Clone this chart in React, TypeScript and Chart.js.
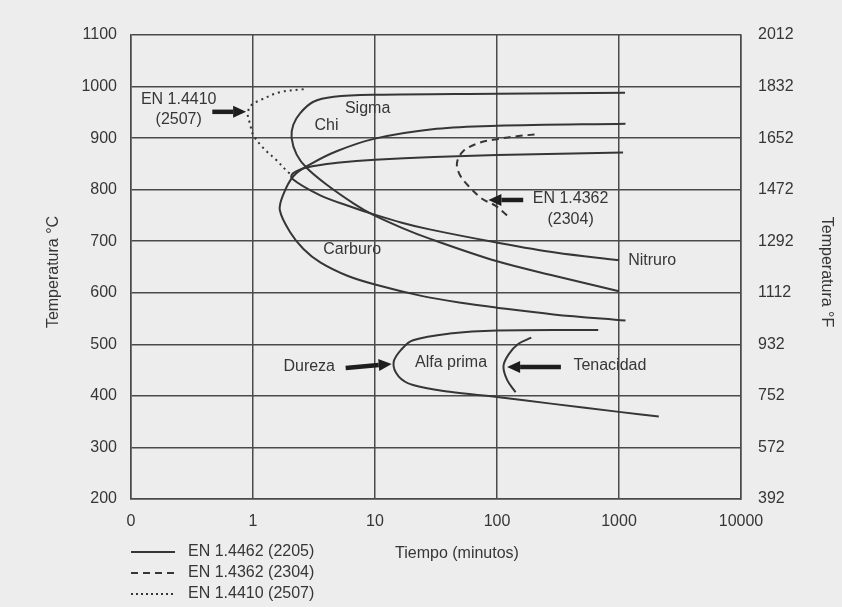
import React, { useEffect, useRef } from "react";
import { Chart, registerables } from "chart.js";

Chart.register(...registerables);

// ---------- data ----------
const X_TICKS = [0.1, 1, 10, 100, 1000, 10000];
const C_TICKS = [200, 300, 400, 500, 600, 700, 800, 900, 1000, 1100];
const F_TICKS = [392, 572, 752, 932, 1112, 1292, 1472, 1652, 1832, 2012];

// EN 1.4462 (2205) – Sigma / Chi curve (ends ~600 °C at 1000 min)
const sigmaTime = [1120, 100, 10, 4.6, 3.1, 2.43, 2.14, 2.07, 2.28, 2.76, 4.05, 6.7, 9.5, 16.6, 28, 97, 294, 1000];
const sigmaTemp = [988, 986, 984, 980, 970, 948, 926, 901, 868, 842, 809, 773, 752, 726, 705, 662, 633, 603];

// EN 1.4462 (2205) – curve ending at Nitruro
const nitruroTime = [1080, 100, 10, 4.9, 2.76, 2.14, 2.07, 3.56, 6.7, 9.5, 16.6, 28, 97, 300, 1000];
const nitruroTemp = [872, 867, 858, 852, 843, 832, 822, 789, 765, 753, 736, 723, 698, 678, 663];

// EN 1.4462 (2205) – Carburo curve
const carburoTime = [1130, 100, 32, 10, 4.9, 2.94, 2.14, 1.76, 1.66, 2.01, 2.59, 3.56, 5.94, 10, 24, 49, 100, 290, 1130];
const carburoTemp = [928, 924, 918, 899, 875, 849, 826, 789, 760, 718, 685, 659, 633, 616, 594, 581, 571, 558, 546];

// EN 1.4462 (2205) – Alfa prima curve
const alfaTime = [676, 100, 41, 20.5, 16.6, 14.2, 15.6, 20.5, 41, 100, 277, 1000, 2120];
const alfaTemp = [528, 527, 521, 508, 491, 465, 438, 421, 408, 398, 385, 369, 360];

// EN 1.4462 (2205) – Tenacidad curve
const tenacidadTime = [191, 150, 125, 113, 121, 142];
const tenacidadTemp = [513, 501, 481, 458, 431, 407];

// EN 1.4362 (2304) – dashed
const en2304Time = [203, 150, 100, 72, 53, 47, 49.5, 59.5, 76, 97, 121];
const en2304Temp = [907, 904, 898, 891, 875, 852, 829, 805, 782, 769, 750];

// EN 1.4410 (2507) – dotted
const en2507Time = [2.6, 1.66, 1.13, 0.97, 0.905, 0.95, 1.0, 1.2, 1.56, 1.94, 2.14];
const en2507Temp = [995, 989, 973, 964, 948, 926, 907, 882, 857, 834, 827];

const LEGEND_LABELS = ["EN 1.4462 (2205)", "EN 1.4362 (2304)", "EN 1.4410 (2507)"];

const NOTE_TEXT = ["Sigma", "Chi", "Carburo", "Nitruro", "EN 1.4362", "(2304)", "EN 1.4410", "(2507)", "Dureza", "Alfa prima", "Tenacidad"];
const NOTE_TIME = [8.7, 4.0, 6.5, 1190, 401, 401, 0.246, 0.246, 2.89, 42, 842];
const NOTE_TEMP = [958, 924, 683, 663, 783, 741, 975, 935, 457, 465, 459];
const NOTE_ALIGN = ["center", "center", "center", "left", "center", "center", "center", "center", "center", "center", "center"];

const ARROW_FROM_TIME = [164, 0.464, 5.75, 334];
const ARROW_FROM_TEMP = [780, 951, 454, 456];
const ARROW_TO_TIME = [85, 0.878, 13.7, 121];
const ARROW_TO_TEMP = [780, 951, 462, 456];

// ---------- styles ----------
const FONT = '"Liberation Sans", Arial, sans-serif';
const BG = "#ededed";
const INK = "#363636";
const GRID = "#4a4a4a";

const zip = (t: number[], T: number[]) => t.map((v, i) => ({ x: v, y: T[i] }));

function drawArrow(ctx: CanvasRenderingContext2D, x0: number, y0: number, x1: number, y1: number) {
  const ang = Math.atan2(y1 - y0, x1 - x0);
  const headLen = 13;
  const headW = 6;
  const bx = x1 - headLen * Math.cos(ang);
  const by = y1 - headLen * Math.sin(ang);
  ctx.save();
  ctx.strokeStyle = "#1e1e1e";
  ctx.fillStyle = "#1e1e1e";
  ctx.lineWidth = 4.5;
  ctx.beginPath();
  ctx.moveTo(x0, y0);
  ctx.lineTo(bx, by);
  ctx.stroke();
  ctx.beginPath();
  ctx.moveTo(x1, y1);
  ctx.lineTo(bx + headW * Math.sin(ang), by - headW * Math.cos(ang));
  ctx.lineTo(bx - headW * Math.sin(ang), by + headW * Math.cos(ang));
  ctx.closePath();
  ctx.fill();
  ctx.restore();
}

const overlay = {
  id: "overlay",
  beforeDraw(chart: any) {
    const ctx = chart.ctx;
    ctx.save();
    ctx.fillStyle = BG;
    ctx.fillRect(0, 0, chart.width, chart.height);
    ctx.restore();
  },
  afterDraw(chart: any) {
    const ctx: CanvasRenderingContext2D = chart.ctx;
    const xs = chart.scales.x;
    const ys = chart.scales.y;
    ctx.save();
    ctx.fillStyle = INK;
    ctx.textBaseline = "middle";
    ctx.font = `16px ${FONT}`;
    NOTE_TEXT.forEach((txt, i) => {
      ctx.textAlign = NOTE_ALIGN[i] as CanvasTextAlign;
      ctx.fillText(txt, xs.getPixelForValue(NOTE_TIME[i]), ys.getPixelForValue(NOTE_TEMP[i]));
    });
    ARROW_FROM_TIME.forEach((_, i) => {
      drawArrow(
        ctx,
        xs.getPixelForValue(ARROW_FROM_TIME[i]),
        ys.getPixelForValue(ARROW_FROM_TEMP[i]),
        xs.getPixelForValue(ARROW_TO_TIME[i]),
        ys.getPixelForValue(ARROW_TO_TEMP[i])
      );
    });

    // axis titles
    ctx.fillStyle = INK;
    ctx.font = `16px ${FONT}`;
    ctx.textAlign = "center";
    ctx.save();
    ctx.translate(54, 272);
    ctx.rotate(-Math.PI / 2);
    ctx.fillText("Temperatura °C", 0, 0);
    ctx.restore();
    ctx.save();
    ctx.translate(826, 272);
    ctx.rotate(Math.PI / 2);
    ctx.fillText("Temperatura °F", 0, 0);
    ctx.restore();
    ctx.fillText("Tiempo (minutos)", 457, 554);

    // legend
    const rows = [552, 573, 594];
    const dashes = [[], [7, 5], [2, 3]];
    LEGEND_LABELS.forEach((lab, i) => {
      ctx.save();
      ctx.strokeStyle = INK;
      ctx.lineWidth = 2;
      ctx.setLineDash(dashes[i]);
      ctx.beginPath();
      ctx.moveTo(131, rows[i]);
      ctx.lineTo(175, rows[i]);
      ctx.stroke();
      ctx.restore();
      ctx.textAlign = "left";
      ctx.fillText(lab, 188, rows[i]);
    });
    ctx.restore();
  },
};

export default function App() {
  const ref = useRef<HTMLCanvasElement | null>(null);

  useEffect(() => {
    if (!ref.current) return;
    const lineBase = {
      showLine: true,
      pointRadius: 0,
      borderColor: INK,
      borderWidth: 2,
      tension: 0.35,
      fill: false,
    };
    const chart = new Chart(ref.current, {
      type: "scatter",
      data: {
        datasets: [
          { ...lineBase, label: "Sigma", data: zip(sigmaTime, sigmaTemp) },
          { ...lineBase, label: "Nitruro", data: zip(nitruroTime, nitruroTemp) },
          { ...lineBase, label: "Carburo", data: zip(carburoTime, carburoTemp) },
          { ...lineBase, label: "Alfa prima", data: zip(alfaTime, alfaTemp) },
          { ...lineBase, label: "Tenacidad", data: zip(tenacidadTime, tenacidadTemp) },
          { ...lineBase, label: "EN 1.4362 (2304)", data: zip(en2304Time, en2304Temp), borderDash: [7, 5] },
          { ...lineBase, label: "EN 1.4410 (2507)", data: zip(en2507Time, en2507Temp), borderDash: [2, 4] },
        ],
      } as any,
      options: {
        animation: false,
        responsive: true,
        maintainAspectRatio: false,
        devicePixelRatio: 1,
        layout: { padding: { top: 35, left: 0, right: 0, bottom: 0 } },
        plugins: { legend: { display: false }, tooltip: { enabled: false } },
        scales: {
          x: {
            type: "logarithmic",
            min: 0.1,
            max: 10000,
            position: "bottom",
            afterBuildTicks: (s: any) => {
              s.ticks = X_TICKS.map((v) => ({ value: v }));
            },
            afterFit: (s: any) => {
              s.height = 108;
            },
            ticks: {
              autoSkip: false,
              maxRotation: 0,
              padding: 13,
              color: INK,
              font: { family: FONT, size: 16 },
              callback: (v: any) => (Number(v) < 0.5 ? "0" : String(Number(v))),
            },
            grid: { color: GRID, lineWidth: 1.5, drawTicks: false },
            border: { display: true, color: GRID, width: 1.5 },
          },
          y: {
            type: "linear",
            min: 200,
            max: 1100,
            position: "left",
            afterBuildTicks: (s: any) => {
              s.ticks = C_TICKS.map((v) => ({ value: v }));
            },
            afterFit: (s: any) => {
              s.width = 131;
            },
            ticks: {
              padding: 14,
              color: INK,
              font: { family: FONT, size: 16 },
              callback: (v: any) => String(Number(v)),
            },
            grid: { color: GRID, lineWidth: 1.5, drawTicks: false },
            border: { display: true, color: GRID, width: 1.5 },
          },
          y2: {
            type: "linear",
            min: 392,
            max: 2012,
            position: "right",
            afterBuildTicks: (s: any) => {
              s.ticks = F_TICKS.map((v) => ({ value: v }));
            },
            afterFit: (s: any) => {
              s.width = 101;
            },
            ticks: {
              padding: 17,
              color: INK,
              font: { family: FONT, size: 16 },
              callback: (v: any) => String(Number(v)),
            },
            grid: { display: false, drawTicks: false },
            border: { display: true, color: GRID, width: 1.5 },
          },
        },
      } as any,
      plugins: [overlay],
    });
    return () => chart.destroy();
  }, []);

  return (
    <div style={{ position: "fixed", left: 0, top: 0, width: 842, height: 607, background: BG }}>
      <canvas ref={ref} />
    </div>
  );
}
